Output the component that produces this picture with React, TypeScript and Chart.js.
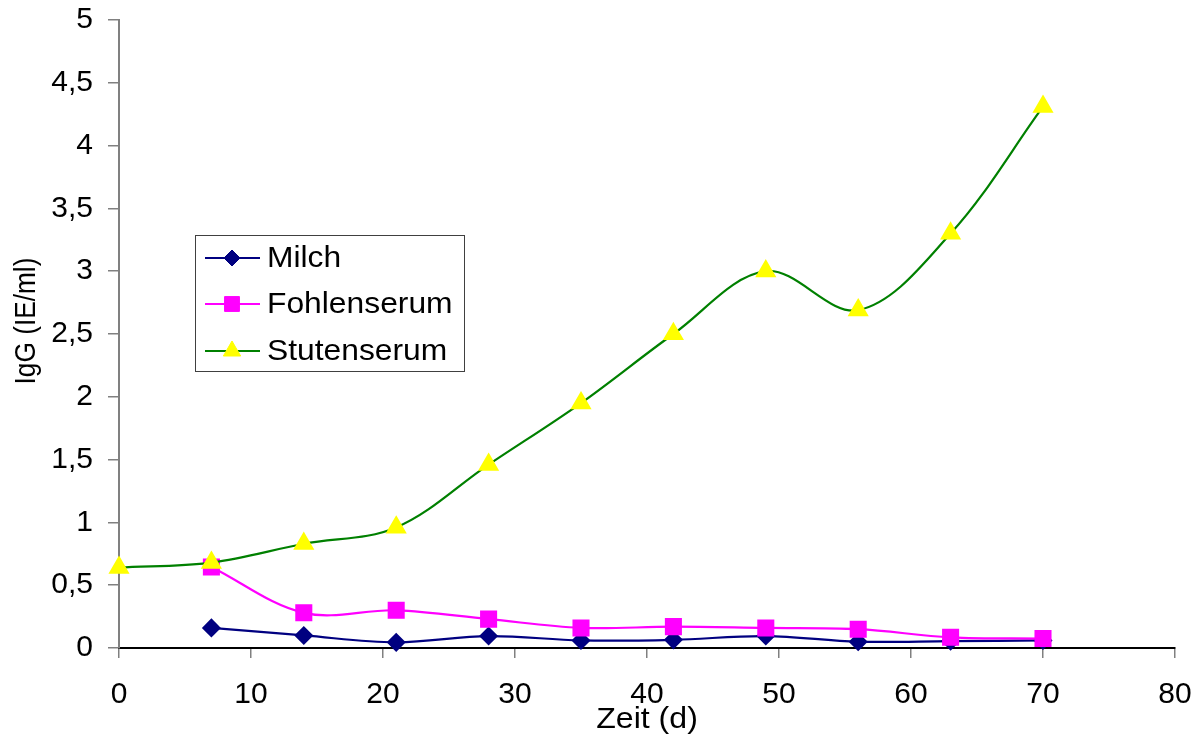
import React, { useEffect, useRef } from 'react';
import { Chart, registerables } from 'chart.js';

Chart.register(...registerables);

// Data
const stutenDays = [0, 7, 14, 21, 28, 35, 42, 49, 56, 63, 70];
const stutenserum = [0.64, 0.68, 0.83, 0.96, 1.46, 1.95, 2.5, 3.0, 2.69, 3.3, 4.31];
const fohlenDays = [7, 14, 21, 28, 35, 42, 49, 56, 63, 70];
const fohlenserum = [0.645, 0.28, 0.3, 0.23, 0.16, 0.17, 0.16, 0.15, 0.085, 0.075];
const milchDays = [7, 14, 21, 28, 35, 42, 49, 56, 63, 70];
const milch = [0.16, 0.1, 0.045, 0.095, 0.06, 0.065, 0.095, 0.05, 0.055, 0.06];

const seriesLabels = ['Milch', 'Fohlenserum', 'Stutenserum'];
const xAxisTitle = 'Zeit (d)';
const yAxisTitle = 'IgG (IE/ml)';

const FONT = '"Liberation Sans", Arial, sans-serif';

const toPoints = (xs: number[], ys: number[]) => xs.map((x, i) => ({ x, y: ys[i] }));

const titlesPlugin = {
  id: 'axisTitles',
  afterDraw(chart: any) {
    const ctx = chart.ctx;
    const area = chart.chartArea;
    ctx.save();
    ctx.fillStyle = '#000000';
    ctx.textAlign = 'center';
    ctx.textBaseline = 'middle';
    ctx.font = `30px ${FONT}`;
    ctx.save();
    ctx.translate((area.left + area.right) / 2, 720);
    ctx.scale(1.07, 1);
    ctx.fillText(xAxisTitle, 0, 0);
    ctx.restore();
    ctx.translate(27, 321);
    ctx.rotate(-Math.PI / 2);
    ctx.scale(0.875, 1);
    ctx.fillText(yAxisTitle, 0, 0);
    ctx.restore();
  },
};

const legendPlugin = {
  id: 'boxLegend',
  afterDraw(chart: any) {
    const ctx = chart.ctx;
    const bx = 195, by = 235, bw = 269, bh = 136;
    ctx.save();
    ctx.fillStyle = '#ffffff';
    ctx.fillRect(bx, by, bw, bh);
    ctx.strokeStyle = '#404040';
    ctx.lineWidth = 1;
    ctx.strokeRect(bx + 0.5, by + 0.5, bw, bh);
    const rows = [258, 304, 351];
    chart.data.datasets.forEach((ds: any, i: number) => {
      const y = rows[i];
      ctx.strokeStyle = ds.borderColor;
      ctx.lineWidth = 2;
      ctx.beginPath();
      ctx.moveTo(205, y);
      ctx.lineTo(260, y);
      ctx.stroke();
      ctx.fillStyle = ds.pointBackgroundColor;
      ctx.strokeStyle = ds.pointBorderColor;
      ctx.lineWidth = 1;
      const r = ds.pointRadius;
      ctx.beginPath();
      if (ds.pointStyle === 'rectRot') {
        ctx.moveTo(232 - r, y);
        ctx.lineTo(232, y - r);
        ctx.lineTo(232 + r, y);
        ctx.lineTo(232, y + r);
        ctx.closePath();
      } else if (ds.pointStyle === 'rect') {
        const s = Math.SQRT1_2 * r;
        ctx.rect(232 - s, y - s, 2 * s, 2 * s);
      } else {
        const h = r * Math.sin((2 * Math.PI) / 3);
        ctx.moveTo(232, y - r);
        ctx.lineTo(232 + h, y + r / 2);
        ctx.lineTo(232 - h, y + r / 2);
        ctx.closePath();
      }
      ctx.fill();
      ctx.stroke();
      ctx.save();
      ctx.fillStyle = '#000000';
      ctx.font = `30px ${FONT}`;
      ctx.textBaseline = 'middle';
      ctx.textAlign = 'left';
      ctx.translate(267, y + 1);
      ctx.scale(1.06, 1);
      ctx.fillText(ds.label, 0, 0);
      ctx.restore();
    });
    ctx.restore();
  },
};

const bgPlugin = {
  id: 'whiteBg',
  beforeDraw(chart: any) {
    const ctx = chart.ctx;
    ctx.save();
    ctx.fillStyle = '#ffffff';
    ctx.fillRect(0, 0, chart.width, chart.height);
    ctx.restore();
  },
};

export default function App() {
  const ref = useRef<HTMLCanvasElement>(null);

  useEffect(() => {
    document.body.style.margin = '0';
    const canvas = ref.current;
    if (!canvas) return;
    const chart = new Chart(canvas, {
      type: 'line',
      data: {
        datasets: [
          {
            label: seriesLabels[0],
            data: toPoints(milchDays, milch),
            borderColor: '#000080',
            backgroundColor: '#000080',
            pointBackgroundColor: '#000080',
            pointBorderColor: '#000080',
            pointStyle: 'rectRot',
            pointRadius: 8,
            borderWidth: 2.2,
            tension: 0.35,
            clip: false,
            order: 3,
          },
          {
            label: seriesLabels[1],
            data: toPoints(fohlenDays, fohlenserum),
            borderColor: '#FF00FF',
            backgroundColor: '#FF00FF',
            pointBackgroundColor: '#FF00FF',
            pointBorderColor: '#FF00FF',
            pointStyle: 'rect',
            pointRadius: 10.5,
            borderWidth: 2.2,
            tension: 0.35,
            clip: false,
            order: 2,
          },
          {
            label: seriesLabels[2],
            data: toPoints(stutenDays, stutenserum),
            borderColor: '#008000',
            backgroundColor: '#FFFF00',
            pointBackgroundColor: '#FFFF00',
            pointBorderColor: '#FFFF00',
            pointStyle: 'triangle',
            pointRadius: 10,
            borderWidth: 2.2,
            tension: 0.35,
            clip: false,
            order: 1,
          },
        ] as any,
      },
      options: {
        animation: false,
        responsive: false,
        devicePixelRatio: 1,
        layout: { padding: { left: 0, top: 20, right: 27, bottom: 0 } },
        plugins: {
          legend: { display: false },
          tooltip: { enabled: false },
        },
        scales: {
          x: {
            type: 'linear',
            min: 0,
            max: 80,
            afterFit: (scale: any) => {
              scale.height = 89;
              scale.paddingLeft = 0;
              scale.paddingRight = 0;
            },
            ticks: {
              stepSize: 10,
              color: '#000000',
              padding: 19,
              font: { family: FONT, size: 30 },
              maxRotation: 0,
            },
            grid: {
              drawOnChartArea: false,
              drawTicks: true,
              tickLength: 10,
              color: '#808080',
              lineWidth: 1.5,
            },
            border: { display: true, color: '#000000', width: 2 },
          },
          y: {
            type: 'linear',
            min: 0,
            max: 5,
            afterFit: (scale: any) => {
              scale.width = 119;
              scale.paddingTop = 0;
              scale.paddingBottom = 0;
            },
            ticks: {
              stepSize: 0.5,
              color: '#000000',
              padding: 15,
              font: { family: FONT, size: 30 },
              callback: (v: any) => String(v).replace('.', ','),
            },
            grid: {
              drawOnChartArea: false,
              drawTicks: true,
              tickLength: 11,
              color: '#808080',
              lineWidth: 1.5,
            },
            border: { display: true, color: '#808080', width: 2 },
          },
        },
      } as any,
      plugins: [bgPlugin, titlesPlugin, legendPlugin],
    });
    return () => chart.destroy();
  }, []);

  return (
    <div style={{ position: 'absolute', left: 0, top: 0, width: 1202, height: 737 }}>
      <canvas ref={ref} width={1202} height={737} />
    </div>
  );
}
